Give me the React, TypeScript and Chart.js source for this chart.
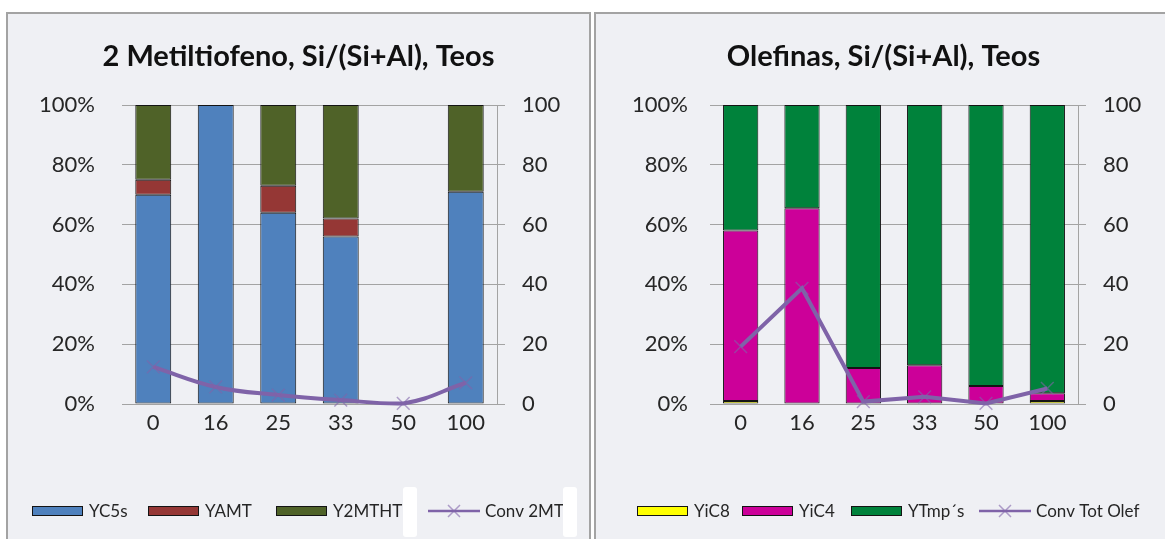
import React, { useEffect, useRef } from 'react';
import { Chart, registerables } from 'chart.js';

Chart.register(...registerables);

const FONT = 'Lato, "Open Sans", "DejaVu Sans", sans-serif';
const GRID = '#a3a3a3';
const TEXT = '#262626';
const PANEL_BG = '#eff0f4';

// Si/(Si+Al) ratios shared by both panels
const categories = ['0', '16', '25', '33', '50', '100'];
const percentTicks = [0, 20, 40, 60, 80, 100];
const conversionTicks = [0, 20, 40, 60, 80, 100];

// 2-methylthiophene: product distribution (%) and conversion
const yC5s = [70, 100, 64, 56, 0, 71];
const yAMT = [5, 0, 9, 6, 0, 0];
const y2MTHTF = [25, 0, 27, 38, 0, 29];
const conv2MT = [12.4, 5.7, 3, 1.3, 0.2, 7.1];

// Olefins: product distribution (%) and total conversion
const yiC8 = [1, 0, 0, 0, 0, 1];
const yiC4 = [57, 65.5, 12, 13, 6, 2.6];
const yTmps = [42, 34.5, 88, 87, 94, 96.4];
const convTotOlef = [19.2, 38.7, 0.8, 2.4, 0.2, 5.2];

const CANVAS_H = 525;
const PLOT_TOP = 91;
const X_AXIS_H = 135;
const TITLE_Y = 43;
const LEGEND_Y = 497;

type PanelProps = {
  title: string;
  width: number;
  yLeftWidth: number;
  yLeftPad: number;
  yRightWidth: number;
  legendX: number[];
  masks: number[][];
  datasets: any[];
};

function barSet(label: string, data: number[], color: string) {
  return {
    type: 'bar',
    label,
    data,
    backgroundColor: color,
    borderColor: '#141414',
    borderWidth: 1,
    borderSkipped: false,
    barPercentage: 0.575,
    categoryPercentage: 1,
    yAxisID: 'y',
    order: 1,
  };
}

function lineSet(label: string, data: number[], tension: number) {
  return {
    type: 'line',
    label,
    data,
    borderColor: '#7f63a8',
    borderWidth: 4,
    tension,
    pointStyle: 'crossRot',
    pointRadius: 9,
    pointBorderWidth: 1.5,
    pointBorderColor: 'rgba(128,100,170,0.6)',
    pointBackgroundColor: 'rgba(0,0,0,0)',
    yAxisID: 'y2',
    clip: false,
    order: 0,
  };
}

function Panel({ title, width, yLeftWidth, yLeftPad, yRightWidth, legendX, masks, datasets }: PanelProps) {
  const ref = useRef<HTMLCanvasElement | null>(null);

  useEffect(() => {
    if (!ref.current) return;

    const decorations = {
      id: 'panelDecorations',
      afterDraw(chart: any) {
        const ctx = chart.ctx;
        ctx.save();
        // heading
        ctx.fillStyle = '#111';
        ctx.font = `bold 29px ${FONT}`;
        ctx.textAlign = 'center';
        ctx.textBaseline = 'middle';
        ctx.fillText(title, chart.width / 2, TITLE_Y);

        // legend row
        ctx.font = `17px ${FONT}`;
        ctx.textAlign = 'left';
        chart.data.datasets.forEach((ds: any, i: number) => {
          const x = legendX[i];
          if (ds.type === 'line') {
            ctx.strokeStyle = ds.borderColor;
            ctx.lineWidth = 2.5;
            ctx.beginPath();
            ctx.moveTo(x, LEGEND_Y);
            ctx.lineTo(x + 52, LEGEND_Y);
            ctx.stroke();
            ctx.strokeStyle = ds.pointBorderColor;
            ctx.lineWidth = 1.5;
            const cx = x + 26;
            const r = 6;
            ctx.beginPath();
            ctx.moveTo(cx - r, LEGEND_Y - r);
            ctx.lineTo(cx + r, LEGEND_Y + r);
            ctx.moveTo(cx + r, LEGEND_Y - r);
            ctx.lineTo(cx - r, LEGEND_Y + r);
            ctx.stroke();
          } else {
            ctx.fillStyle = ds.backgroundColor;
            ctx.fillRect(x, LEGEND_Y - 5, 51, 10);
            ctx.strokeStyle = '#141414';
            ctx.lineWidth = 1;
            ctx.strokeRect(x + 0.5, LEGEND_Y - 4.5, 50, 9);
          }
          ctx.fillStyle = TEXT;
          ctx.fillText(ds.label, x + 57, LEGEND_Y + 1);
        });

        // white tabs over the legend row
        ctx.fillStyle = '#ffffff';
        masks.forEach(([mx, my, mw, mh]) => {
          ctx.beginPath();
          ctx.roundRect(mx, my, mw, mh, 3);
          ctx.fill();
        });
        ctx.restore();
      },
    };

    const tickFont = { family: FONT, size: 22 };

    const chart = new Chart(ref.current, {
      type: 'bar',
      data: { labels: categories, datasets },
      options: {
        responsive: false,
        animation: false,
        devicePixelRatio: 1,
        layout: { padding: { top: PLOT_TOP, left: 0, right: 0, bottom: 0 } },
        plugins: {
          legend: { display: false },
          title: { display: false },
          tooltip: { enabled: false },
        },
        scales: {
          x: {
            stacked: true,
            grid: { display: false },
            border: { display: false },
            ticks: { font: tickFont, color: TEXT, padding: -2 },
            afterFit: (s: any) => {
              s.height = X_AXIS_H;
            },
          },
          y: {
            stacked: true,
            min: 0,
            max: 100,
            afterBuildTicks: (s: any) => {
              s.ticks = percentTicks.map((v) => ({ value: v }));
            },
            ticks: {
              font: tickFont,
              color: TEXT,
              padding: yLeftPad,
              callback: (v: any) => `${v}%`,
            },
            grid: { color: GRID, drawTicks: false, lineWidth: 1 },
            border: { display: false },
            afterFit: (s: any) => {
              s.width = yLeftWidth;
            },
          },
          y2: {
            position: 'right',
            min: 0,
            max: 100,
            afterBuildTicks: (s: any) => {
              s.ticks = conversionTicks.map((v) => ({ value: v }));
            },
            ticks: { font: tickFont, color: TEXT, padding: 17 },
            grid: { drawOnChartArea: false, drawTicks: true, tickLength: 8, color: GRID },
            border: { display: true, color: GRID },
            afterFit: (s: any) => {
              s.width = yRightWidth;
            },
          },
        },
      } as any,
      plugins: [decorations],
    });

    return () => chart.destroy();
  }, []);

  return <canvas ref={ref} width={width} height={CANVAS_H} style={{ display: 'block' }} />;
}

export default function App() {
  const leftDatasets = [
    barSet('YC5s', yC5s, '#4f81bd'),
    barSet('YAMT', yAMT, '#953735'),
    barSet('Y2MTHTF', y2MTHTF, '#4f6228'),
    lineSet('Conv 2MT', conv2MT, 0.4),
  ];
  const rightDatasets = [
    barSet('YiC8', yiC8, '#ffff00'),
    barSet('YiC4', yiC4, '#cc0099'),
    barSet('YTmp´s', yTmps, '#00823b'),
    lineSet('Conv Tot Olef', convTotOlef, 0),
  ];

  const panelStyle: React.CSSProperties = {
    position: 'absolute',
    top: 12,
    border: '2px solid #a3a3a3',
    background: PANEL_BG,
    overflow: 'hidden',
  };

  return (
    <div
      style={{
        position: 'absolute',
        left: 0,
        top: 0,
        width: 1165,
        height: 539,
        overflow: 'hidden',
        background: '#ffffff',
      }}
    >
      <div style={{ ...panelStyle, left: 6, width: 581, height: 560 }}>
        <Panel
          title="2 Metiltiofeno, Si/(Si+Al), Teos"
          width={581}
          yLeftWidth={114}
          yLeftPad={27}
          yRightWidth={92}
          legendX={[24, 140, 268, 420]}
          masks={[
            [395, 473, 14, 50],
            [555, 473, 14, 50],
          ]}
          datasets={leftDatasets}
        />
      </div>
      <div style={{ ...panelStyle, left: 594, width: 575, height: 560 }}>
        <Panel
          title="Olefinas, Si/(Si+Al), Teos"
          width={575}
          yLeftWidth={114}
          yLeftPad={22}
          yRightWidth={93}
          legendX={[41, 146, 255, 383]}
          masks={[]}
          datasets={rightDatasets}
        />
      </div>
    </div>
  );
}
